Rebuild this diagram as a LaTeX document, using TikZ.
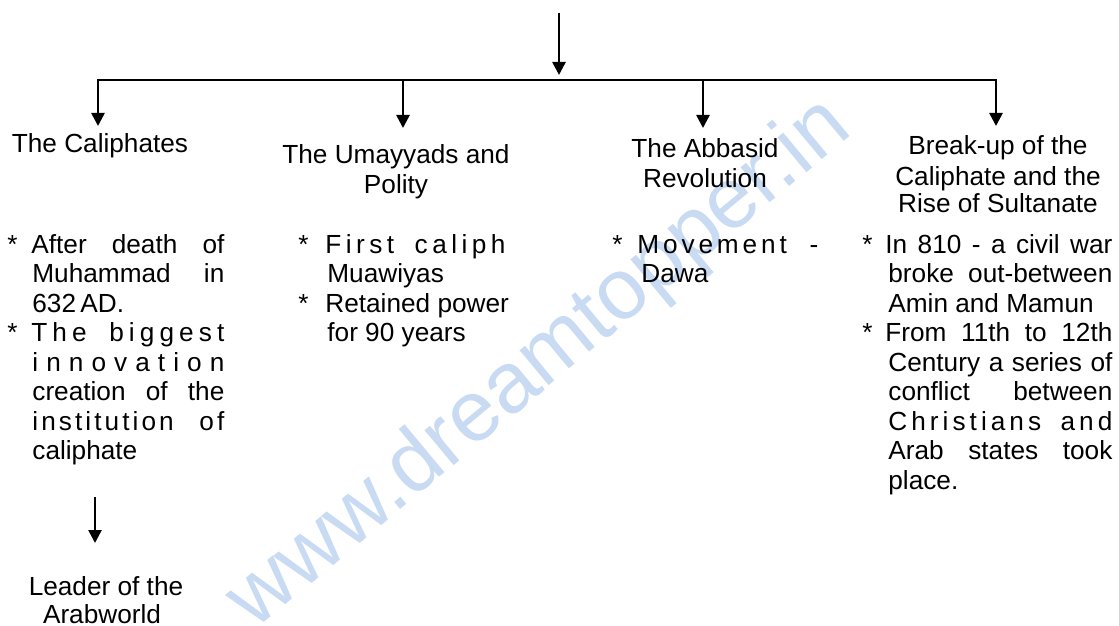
\documentclass[tikz,border=0pt]{standalone}
\usepackage{fontspec}
\setmainfont{Liberation Sans}[Ligatures=NoCommon]
\usetikzlibrary{arrows.meta}
\newcommand\xg{\hfil}
\newcommand\wg[1]{\hskip 0.278em plus #1fil\relax}
\definecolor{wmblue}{RGB}{200,219,242}
\tikzset{
  bl/.style={anchor=base west, inner sep=0pt},
  ast/.style={anchor=base west, inner sep=0pt},
  hd/.style={anchor=base, inner sep=0pt},
  wm/.style={inner sep=0pt, text=wmblue, rotate=39.7, font=\fontsize{43}{45}\selectfont},
  arr/.style={line width=1.3pt, -{Triangle[length=6.5pt,width=6.5pt]}},
  arr2/.style={line width=1.3pt, {Triangle[length=6.5pt,width=6.5pt]}-{Triangle[length=6.5pt,width=6.5pt]}}
}
\begin{document}
\begin{tikzpicture}[x=0.5pt,y=-0.5pt,font=\fontsize{13.1}{15}\selectfont]
\useasboundingbox (0,0) rectangle (1119,626);
% watermark
\node[wm] (wm) at (540,365) {www.dreamtopper.in};
% coordinates
\coordinate (top) at (559,13);
\coordinate (topT) at (559,75);
\coordinate (t1) at (98,126);
\coordinate (b2) at (403,81);
\coordinate (t2) at (403,128);
\coordinate (b3) at (703,81);
\coordinate (t3) at (703,128);
\coordinate (bR) at (996,80);
\coordinate (t4) at (996,126);
\coordinate (la) at (95,497);
\coordinate (lb) at (95,543);
% connectors
\draw[arr] (top) -- (topT);
\draw[arr2] (t1) |- (bR) -- (t4);
\draw[arr] (b2) -- (t2);
\draw[arr] (b3) -- (t3);
\draw[arr] (la) -- (lb);
% headers
\node[hd] (h1) at (100,153) {The Caliphates};
\node[hd] (h2a) at (396,163) {The Umayyads and};
\node[hd] (h2b) at (396,193) {Polity};
\node[hd] (h3a) at (705,157) {The Abbasid};
\node[hd] (h3b) at (705,187) {Revolution};
\node[hd] (h4a) at (998,155) {Break-up of the};
\node[hd] (h4b) at (998,185) {Caliphate and the};
\node[hd] (h4c) at (998,213) {Rise of Sultanate};
% column 1
\node[ast] (a0) at (7,253) {*};
\node[bl] (a1) at (31,253) {\makebox[96.5pt][s]{After death of}};
\node[bl] (a2) at (32,282.5) {\makebox[96pt][s]{Muhammad in}};
\node[bl] (a3) at (32,312) {632\,AD.};
\node[ast] (b0) at (7,341.5) {*};
\node[bl] (a4) at (31,341.5) {\hbox to 96.5pt{T\xg h\xg e\wg{3}b\xg i\xg g\xg g\xg e\xg s\xg t}};
\node[bl] (a5) at (32,371) {\hbox to 96pt{i\xg n\xg n\xg o\xg v\xg a\xg t\xg i\xg o\xg n}};
\node[bl] (a6) at (32,400.5) {\makebox[96pt][s]{creation of the}};
\node[bl] (a7) at (32,430) {\hbox to 96pt{i\xg n\xg s\xg t\xg i\xg t\xg u\xg t\xg i\xg o\xg n\wg{6}o\xg f}};
\node[bl] (a8) at (32,459.5) {caliphate};
\node[hd] (l1) at (106,595) {Leader of the};
\node[hd] (l2) at (102,623) {Arabworld};
% column 2
\node[ast] (c0) at (298,253) {*};
\node[bl] (c1) at (325,253) {\hbox to 90pt{F\xg i\xg r\xg s\xg t\wg{3}c\xg a\xg l\xg i\xg p\xg h}};
\node[bl] (c2) at (327,282.5) {Muawiyas};
\node[ast] (d0) at (298,312) {*};
\node[bl] (c3) at (325,312) {Retained power};
\node[bl] (c4) at (327,341.5) {for 90 years};
% column 3
\node[ast] (e0) at (612,253) {*};
\node[bl] (e1) at (637,253) {\hbox to 90.5pt{M\xg o\xg v\xg e\xg m\xg e\xg n\xg t\wg{4}-}};
\node[bl] (e2) at (641,282.5) {Dawa};
% column 4
\node[ast] (f0) at (862,253) {*};
\node[bl] (f1) at (885,253) {\makebox[113.5pt][s]{In 810 - a civil war}};
\node[bl] (f2) at (888,282.5) {\makebox[112pt][s]{broke out-between}};
\node[bl] (f3) at (888,312) {Amin and Mamun};
\node[ast] (g0) at (862,341.5) {*};
\node[bl] (f4) at (885,341.5) {\makebox[113.5pt][s]{From 11th to 12th}};
\node[bl] (f5) at (888,371) {\makebox[112pt][s]{Century a series of}};
\node[bl] (f6) at (888,400.5) {\makebox[112pt][s]{conflict between}};
\node[bl] (f7) at (888,430) {\hbox to 112pt{C\xg h\xg r\xg i\xg s\xg t\xg i\xg a\xg n\xg s\wg{3}a\xg n\xg d}};
\node[bl] (f8) at (888,459.5) {\makebox[112pt][s]{Arab states took}};
\node[bl] (f9) at (888,489) {place.};
\end{tikzpicture}
\end{document}
